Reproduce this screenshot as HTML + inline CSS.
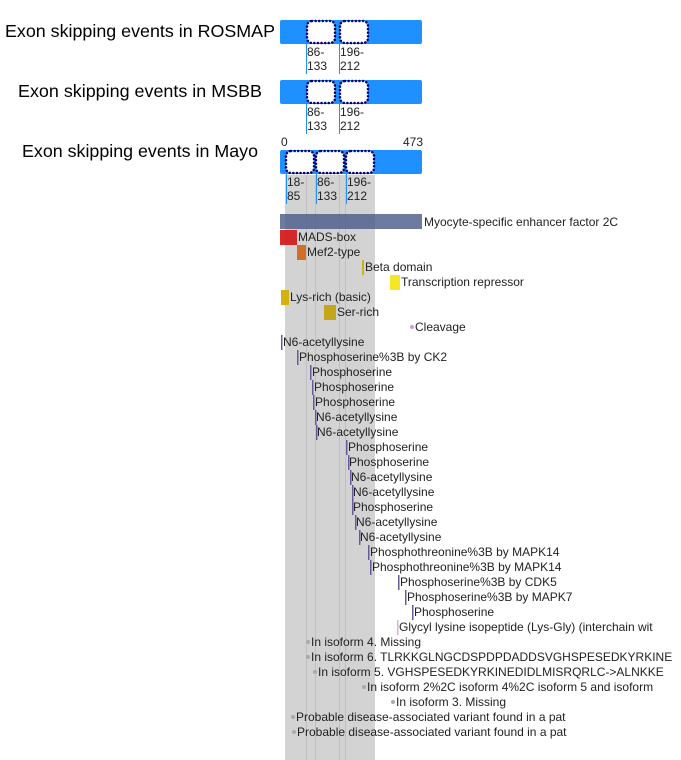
<!DOCTYPE html>
<html><head><style>
html,body{margin:0;padding:0;background:#fff;}
svg{display:block;font-family:"Liberation Sans",Arial,sans-serif;}
.t{font-size:12px;fill:#222;}
.h{font-size:17.8px;fill:#000;}
</style></head><body>
<svg width="681" height="760" viewBox="0 0 681 760">
<rect x="285" y="175" width="90" height="585" fill="#d3d3d3"/>
<g stroke="#c0c0c0" stroke-width="1">
<line x1="306.5" y1="175" x2="306.5" y2="760"/>
<line x1="315.5" y1="175" x2="315.5" y2="760"/>
<line x1="339.5" y1="175" x2="339.5" y2="760"/>
<line x1="345.5" y1="175" x2="345.5" y2="760"/>
</g>
<text class="h" x="5" y="37" textLength="270" lengthAdjust="spacingAndGlyphs">Exon skipping events in ROSMAP</text>
<text class="h" x="18" y="97" textLength="244" lengthAdjust="spacingAndGlyphs">Exon skipping events in MSBB</text>
<text class="h" x="22" y="157" textLength="236" lengthAdjust="spacingAndGlyphs">Exon skipping events in Mayo</text>
<rect x="280" y="20" width="142" height="24" rx="2" fill="#1e90ff"/>
<rect x="307" y="21" width="28" height="22" rx="5" fill="#fff" stroke="#000070" stroke-width="2.5" stroke-linecap="round" stroke-dasharray="0.1,3.5"/>
<rect x="340" y="21" width="28" height="22" rx="5" fill="#fff" stroke="#000070" stroke-width="2.5" stroke-linecap="round" stroke-dasharray="0.1,3.5"/>
<g stroke="#1e90ff" stroke-width="1"><line x1="306.5" y1="44" x2="306.5" y2="74"/><line x1="339.5" y1="44" x2="339.5" y2="74"/></g>
<text class="t" x="307" y="56">86-</text><text class="t" x="307" y="70">133</text>
<text class="t" x="340" y="56">196-</text><text class="t" x="340" y="70">212</text>
<rect x="280" y="80" width="142" height="24" rx="2" fill="#1e90ff"/>
<rect x="307" y="81" width="28" height="22" rx="5" fill="#fff" stroke="#000070" stroke-width="2.5" stroke-linecap="round" stroke-dasharray="0.1,3.5"/>
<rect x="340" y="81" width="28" height="22" rx="5" fill="#fff" stroke="#000070" stroke-width="2.5" stroke-linecap="round" stroke-dasharray="0.1,3.5"/>
<g stroke="#1e90ff" stroke-width="1"><line x1="306.5" y1="104" x2="306.5" y2="134"/><line x1="339.5" y1="104" x2="339.5" y2="134"/></g>
<text class="t" x="307" y="116">86-</text><text class="t" x="307" y="130">133</text>
<text class="t" x="340" y="116">196-</text><text class="t" x="340" y="130">212</text>
<text class="t" x="281" y="146">0</text><text class="t" x="403" y="146">473</text>
<rect x="280" y="150" width="142" height="24" rx="2" fill="#1e90ff"/>
<rect x="286" y="151" width="28" height="22" rx="5" fill="#fff" stroke="#000070" stroke-width="2.5" stroke-linecap="round" stroke-dasharray="0.1,3.5"/>
<rect x="316" y="151" width="28" height="22" rx="5" fill="#fff" stroke="#000070" stroke-width="2.5" stroke-linecap="round" stroke-dasharray="0.1,3.5"/>
<rect x="346" y="151" width="28" height="22" rx="5" fill="#fff" stroke="#000070" stroke-width="2.5" stroke-linecap="round" stroke-dasharray="0.1,3.5"/>
<g stroke="#1e90ff" stroke-width="1"><line x1="286.5" y1="174" x2="286.5" y2="204"/><line x1="316.5" y1="174" x2="316.5" y2="204"/><line x1="346.5" y1="174" x2="346.5" y2="204"/></g>
<text class="t" x="287" y="186">18-</text><text class="t" x="287" y="200">85</text>
<text class="t" x="317" y="186">86-</text><text class="t" x="317" y="200">133</text>
<text class="t" x="347" y="186">196-</text><text class="t" x="347" y="200">212</text>
<rect x="280" y="214" width="142" height="15" fill="#4a5a8a" opacity="0.8"/>
<text class="t" x="424" y="226">Myocyte-specific enhancer factor 2C</text>
<rect x="280" y="230" width="17" height="15" fill="#d41f1f" opacity="0.95"/>
<text class="t" x="298" y="241">MADS-box</text>
<rect x="297" y="245" width="9" height="15" fill="#d2691e" opacity="0.95"/>
<text class="t" x="307" y="256">Mef2-type</text>
<rect x="362" y="260" width="2" height="15" fill="#c8b416"/>
<text class="t" x="365" y="271">Beta domain</text>
<rect x="390" y="275" width="10" height="15" fill="#f5e628"/>
<text class="t" x="401" y="286">Transcription repressor</text>
<rect x="281" y="290" width="8" height="15" fill="#d4b010"/>
<text class="t" x="290" y="301">Lys-rich (basic)</text>
<rect x="324" y="305" width="12" height="15" fill="#c3a61a"/>
<text class="t" x="337" y="316">Ser-rich</text>
<circle cx="412" cy="327" r="2" fill="#c8a0c8"/>
<text class="t" x="415" y="331">Cleavage</text>
<g fill="#6a5a9a">
<rect x="281" y="335" width="1.5" height="15"/>
<rect x="297" y="350" width="1.5" height="15"/>
<rect x="310" y="365" width="1.5" height="15"/>
<rect x="312" y="380" width="1.5" height="15"/>
<rect x="313" y="395" width="1.5" height="15"/>
<rect x="315" y="410" width="1.5" height="15"/>
<rect x="316" y="425" width="1.5" height="15"/>
<rect x="346" y="440" width="1.5" height="15"/>
<rect x="348" y="455" width="1.5" height="15"/>
<rect x="350" y="470" width="1.5" height="15"/>
<rect x="352" y="485" width="1.5" height="15"/>
<rect x="352" y="500" width="1.5" height="15"/>
<rect x="355" y="515" width="1.5" height="15"/>
<rect x="359" y="530" width="1.5" height="15"/>
<rect x="368" y="545" width="1.5" height="15"/>
<rect x="370" y="560" width="1.5" height="15"/>
<rect x="398" y="575" width="1.5" height="15"/>
<rect x="405" y="590" width="1.5" height="15"/>
<rect x="412" y="605" width="1.5" height="15"/>
</g>
<rect x="397" y="620" width="1.5" height="15" fill="#e0b0d0"/>
<text class="t" x="283" y="346">N6-acetyllysine</text>
<text class="t" x="299" y="361">Phosphoserine%3B by CK2</text>
<text class="t" x="312" y="376">Phosphoserine</text>
<text class="t" x="314" y="391">Phosphoserine</text>
<text class="t" x="315" y="406">Phosphoserine</text>
<text class="t" x="316" y="421">N6-acetyllysine</text>
<text class="t" x="317" y="436">N6-acetyllysine</text>
<text class="t" x="348" y="451">Phosphoserine</text>
<text class="t" x="349" y="466">Phosphoserine</text>
<text class="t" x="351" y="481">N6-acetyllysine</text>
<text class="t" x="353" y="496">N6-acetyllysine</text>
<text class="t" x="353" y="511">Phosphoserine</text>
<text class="t" x="356" y="526">N6-acetyllysine</text>
<text class="t" x="360" y="541">N6-acetyllysine</text>
<text class="t" x="370" y="556">Phosphothreonine%3B by MAPK14</text>
<text class="t" x="372" y="571">Phosphothreonine%3B by MAPK14</text>
<text class="t" x="400" y="586">Phosphoserine%3B by CDK5</text>
<text class="t" x="407" y="601">Phosphoserine%3B by MAPK7</text>
<text class="t" x="414" y="616">Phosphoserine</text>
<text class="t" x="399" y="631">Glycyl lysine isopeptide (Lys-Gly) (interchain wit</text>
<g fill="#aaa">
<circle cx="308" cy="642" r="2"/><circle cx="308" cy="657" r="2"/><circle cx="315" cy="672" r="2"/>
<circle cx="364" cy="687" r="2"/><circle cx="393" cy="702" r="2"/><circle cx="293" cy="717" r="2"/><circle cx="294" cy="732" r="2"/>
</g>
<text class="t" x="311" y="646">In isoform 4. Missing</text>
<text class="t" x="311" y="661">In isoform 6. TLRKKGLNGCDSPDPDADDSVGHSPESEDKYRKINE</text>
<text class="t" x="318" y="676">In isoform 5. VGHSPESEDKYRKINEDIDLMISRQRLC-&gt;ALNKKE</text>
<text class="t" x="367" y="691">In isoform 2%2C isoform 4%2C isoform 5 and isoform</text>
<text class="t" x="396" y="706">In isoform 3. Missing</text>
<text class="t" x="296" y="721">Probable disease-associated variant found in a pat</text>
<text class="t" x="297" y="736">Probable disease-associated variant found in a pat</text>
</svg>
</body></html>
